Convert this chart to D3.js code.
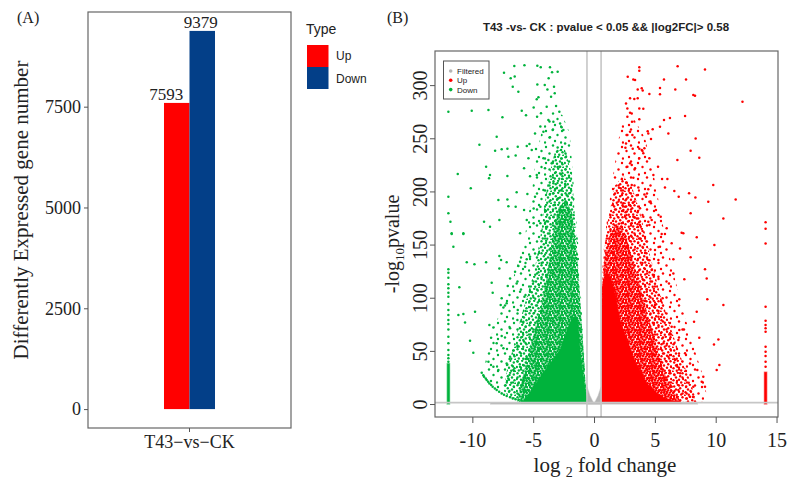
<!DOCTYPE html>
<html lang="en">
<head>
<meta charset="utf-8">
<title>DEG counts and volcano plot</title>
<style>
  body { margin: 0; background: #fff; }
  svg { display: block; }
  .serif { font-family: "Liberation Serif", "Times New Roman", serif; fill: #222; }
  .sans { font-family: "Liberation Sans", Arial, sans-serif; fill: #222; }
</style>
</head>
<body>
<script src="https://cdn.jsdelivr.net/npm/d3@7"></script>
<svg></svg>
<script>

// ---------- panel A : number of DEGs
var comparisons = ['T43\u2212vs\u2212CK'];
var types = ['Up', 'Down'];
var degCounts = [7593, 9379];
var countTicks = [0, 2500, 5000, 7500];

// ---------- panel B : volcano plot (log2FC, -log10 pvalue)
var fcTicks = [-10, -5, 0, 5, 10, 15];
var pTicks = [0, 50, 100, 150, 200, 250, 300];
var fcCut = 0.58;
var pCut = 1.3; // -log10(0.05)
var legendB = ['Filtered', 'Up', 'Down'];

// scattered down-regulated genes
var downPoints = [
  [-11.97,275],[-10.05,276],[-8.68,276.6],[-7.53,269.7],[-5.94,276],[-5.59,271.6],[-7.4,311.7],[-6.85,306.4],
  [-6.55,318],[-5.72,318.6],[-6.52,308.2],[-6.22,293.8],[-6.68,298.5],[-4.66,318.3],[-4.38,316.7],[-3.62,316.7],
  [-3.45,312],[-2.99,312.6],[-4.66,300.7],[-4.05,300],[-3.73,306.4],[-3.83,296],[-3.29,298.5],[-3.23,292.3],
  [-4.71,286.6],[-4.57,288.5],[-3.53,289],[-3.12,280.3],[-2.85,275],[-3.89,279.7],[-4.96,279],[-4.68,270.3],
  [-4.36,273.5],[-3.75,267.2],[-3.34,265.6],[-2.79,264],[-2.52,257.8],[-2.66,260.3],[-4.41,261],[-4.85,254.6],
  [-4.16,256.2],[-3.62,250.9],[-3.4,257.8],[-8,251.5],[-9.42,244],[-8.13,238.3],[-7.59,239.6],[-7.12,240.2],
  [-6.27,242],[-5.53,242.7],[-5.31,244.6],[-5.12,238.9],[-4.77,239.9],[-7.04,232.7],[-6.44,233.9],[-5.39,231.1],
  [-4.16,231.1],[-3.75,229.5],[-2.99,241.4],[-2.71,238.9],[-2.38,245.2],[-2.3,232.7],[-8.87,223.3],[-8.55,215.4],
  [-8.63,212.3],[-7.12,214.6],[-11.2,216.5],[-10.13,202.9],[-11.97,195],[-5.75,221.7],[-5.26,214.3],[-4.71,215.4],
  [-4.03,221.7],[-3.48,226.4],[-2.79,223.3],[-2.6,217.2],[-3.34,207.6],[-3.07,202.9],[-2.66,201.3],[-2.38,207],
  [-2.25,196.6],[-3.62,197.6],[-2.93,193.5],[-7.86,191.9],[-7.12,192.5],[-6.36,199.2],[-5.48,197.6],[-4.85,195],
  [-4.16,201.3],[-6.44,185.6],[-7.04,186],[-5.75,182.5],[-4.96,184],[-4.41,185.6],[-4.03,182.5],[-11.97,179.4],
  [-11.8,171.5],[-9.04,171.5],[-8.55,166.8],[-7.78,173.1],[-5.53,173.1],[-4.96,170],[-4.41,170],[-3.89,172],
  [-3.34,176.2],[-2.79,182.5],[-2.52,185.6],[-2.25,188.6],[-2.11,179.4],[-2.38,173.1],[-2.66,166.8],[-3.07,170],
  [-11.7,160.6],[-10.74,160.6],[-6.08,160.6],
  [-11.7,159.9],[-10.74,159.9],[-11.56,148],[-10.46,133.3],[-9.83,131.4],[-8.87,133.3],[-7.78,139.2],[-7.64,135.5],
  [-7.18,133.3],[-7.78,127.6],[-11.07,109.8],[-8.41,114.1],[-8.33,104.7],[-7.09,111],[-6.9,118.2],[-6.49,124.5],
  [-6.22,129.8],[-6.08,133.9],[-5.53,136.1],[-5.67,129.2],[-5.26,138.6],[-4.85,141.7],[-6.36,113.5],[-6.08,105.7],
  [-5.72,101],[-5.26,105.7],[-7.59,99.4],[-7.67,93.1],[-7.45,90.9],[-7.18,94.7],[-6.27,88.4],[-11.15,83.7],
  [-10.74,84.7],[-9.78,86.9],[-10.6,76.8],[-8.6,74.3],[-8.27,72.1],[-10.19,59.6],[-9.92,48.3],[-8.46,62.4],
  [-8,57.1],[-7.59,64],[-6.9,71.2],[-6.3,79],[-5.81,77.5],[-7.45,52.4],[-6.9,44.5],[-6.3,53.9],[-5.81,60.2],
  [-5.26,69.6],[-8.68,39.8],[-8.27,35.1],[-7.86,32],[-7.18,38.2],[-6.63,32],[-6.08,35.1],[-5.53,43],[-5.12,49.2],
  [-4.71,57.1],[-7.04,24.1],[-6.22,19.4],[-5.67,25.7],[-5.26,32],[-4.71,38.2]
];
// arc of low-count genes at lower left
var downArc = [
  [-9.23,29.5],[-9.1,27],[-9.04,25.7],[-8.9,24],[-8.82,22.6],[-8.7,21],[-8.6,19.4],[-8.45,17.8],[-8.33,16.3],
  [-8.15,14.6],[-8,13.2],[-7.8,11.5],[-7.59,10],[-7.4,8.7],[-7.18,7.5],[-6.9,6.3],[-6.68,5.3],[-6.45,4.5],
  [-6.22,3.8],[-5.95,3],[-5.67,2.2]
];
// genes stacked at the left edge (log2FC about -12)
var downEdgeFC = -11.97;
var downEdgeP = [39.8,43,46.1,50.8,57.1,63.3,70.2,75.3,79,83.7,88.4,94.1,101,104.7,108.8,112.6,118.8,123.5,126.7];

var upPoints = [
  [3.72,316.7],[3.72,313.6],[6.87,317.7],[9.12,314.6],[2.77,307.9],[3.23,305.4],[3.37,304.8],[5.75,305.4],
  [7.56,305.4],[3.59,296],[3.92,297],[4,295],[5.42,297.3],[6.68,296],[4.55,291.6],[5.42,291.3],[8.16,290.7],
  [8.3,290],[2.96,287.6],[3.31,287],[3.59,287.6],[2.63,282.8],[12.2,284.4],[2.74,278.1],[3.72,278.1],[4.05,277.8],
  [2.96,274],[3.1,273.4],[2.74,270.3],[3.72,267.8],[3.12,265.6],[5.75,267.2],[6.24,269],[7.48,271],[5.42,260.9],
  [4.82,258.4],[4.41,256.5],[4.46,254.6],[6.11,254.6],[2.96,256.2],[3.15,253],[2.74,253],[2.63,245.2],[2.58,241.1],
  [4.68,249.3],[8.35,249.9],[3.18,240.2],[3.72,240.2],[3.92,238.9],[4.14,240.5],[4.05,235.8],[4.55,231.1],
  [3.72,231.1],[7.94,238.3],[8.65,231.7],[6.85,229.5],[2.96,226.4],[3.1,224.8],[2.74,223.3],[3.37,221.7],
  [5.26,223.3],[3.23,212.9],[4.88,215.4],[5.59,211.7],[6.03,211.7],[2.69,208.2],[3.1,206],[3.64,203.8],[4.46,202],
  [2.19,202.9],[4.14,197.2],[3.51,196.3],[4.27,195],[4.55,190.3],[5.83,203.8],[9.8,206],[6.6,200.4],[7.81,198.2],
  [6.96,195],[8.33,194.4],[9.39,190.3],[11.64,192.5],[2.41,188.8],[2.55,185.6],[3.18,189.4],[3.01,186.2],
  [3.78,184.1],[4.68,188.8],[2.41,182.5],[2.69,181],[2.55,176.2],[3.23,176.2],[3.51,174.6],[4.05,176.2],
  [4.46,171.5],[4.74,173.1],[5.48,176.2],[5.09,182.5],[7.94,179.4],[10.63,174.6],[2.27,170],[3.1,170],
  [3.78,168.4],[4.55,168.4],[5.97,165.3],[7.34,160.6],
  [5.56,159.9],[5.83,159.9],[6.38,151.2],[7.07,146.4],[7.2,161.2],[8.44,156.8],[9.89,149.6],[7.94,138],
  [5.29,135.5],[6.52,136.1],[9.12,126.7],[9.26,118.2],[7.42,117.3],[6.16,113.5],[6.52,122.9],[7.01,98.5],
  [9.31,98.5],[10.63,93.1],[8.44,86.9],[8.22,77.5],[7.39,70.2],[8.65,62.4],[10.22,60.8],[9.86,56.1],[7.48,47.7],
  [7.89,38.2],[10.3,36.7],[10.08,32],[8.49,32],[8.98,25.7],[8.85,21],[9.12,16.3],[7.89,6.9],[8.16,16.3],
  [7.61,10],[7.01,69.6],[6.93,60.2],[6.24,66.5],[6.38,72.8],[5.7,57.1],[6.11,44.5],[6.66,41.4],[6.85,35.1],
  [6.19,28.9],[5.51,39.8],[5.83,22.6],[6.38,16.3],[6.93,13.2],[7.07,28.9],[5.29,82.2],[5.01,93.1],[5.64,99.4],
  [4.33,105.7],[4.6,96.3],[4.05,88.4],[4.74,126.1],[5.29,119.8],[4.05,116.7],[4.46,135.5],[5.01,144.9],
  [5.42,148],[3.78,155.8],[3.1,157.4]
];
// genes stacked at the right edge (log2FC about 14)
var upEdgeFC = 14.1;
var upEdgeP = [35.1,39.8,45.2,49.2,53.9,68,71.2,74.3,78.4,91.5,151,165,171];

// outlines of the areas where points merge: solid core, dense, medium, thin fringe
var downCore = [[-0.6,1.3],[-0.65,10],[-0.9,26],[-1.15,51],[-1.3,76],[-1.5,84],[-2,76],[-2.8,51],[-4.4,26],[-5.5,7],[-5.9,1.3]];
var downDense = [[-0.62,1.3],[-0.8,40],[-1.1,90],[-1.4,140],[-1.8,180],[-2.3,192],[-2.9,185],[-3.4,160],[-3.8,125],
  [-4.3,95],[-5,65],[-5.6,38],[-6.1,15],[-6.3,1.3]];
var downMid = [[-0.6,1.3],[-1.3,130],[-1.8,215],[-2.4,240],[-3.2,238],[-3.8,210],[-4.3,165],[-4.9,125],[-5.8,90],
  [-6.6,55],[-7.2,30],[-7.4,12],[-7,7],[-6.22,3.8],[-5.6,1.5]];
var downOuter = [[-5.6,1.5],[-6.22,3.8],[-7.18,7.5],[-8,13.2],[-8.6,19.4],[-9,35],[-8.6,60],[-7.6,90],[-6.6,120],
  [-5.8,150],[-5.2,190],[-4.8,230],[-4.2,262],[-3.4,275],[-2.6,272],[-2,255],[-1.3,150],[-0.6,1.3]];
var downEdgeCore = [[-12.07,0],[-11.87,0],[-11.87,38],[-12.07,38]];
var upCore = [[0.63,1.3],[0.63,60],[0.68,110],[1,125],[1.4,118],[1.8,100],[2.1,80],[2.7,60],[3.3,42],[4.3,20],[5.2,10],[5.9,5],[7.2,1.3]];
var upDense = [[0.63,1.3],[0.66,110],[0.9,140],[1.3,160],[1.9,170],[2.6,160],[3.2,135],[3.8,110],[4.4,85],[5,60],
  [5.6,35],[6.3,15],[7,5],[7.2,1.3]];
var upMid = [[0.63,1.3],[0.7,130],[1.1,170],[1.7,205],[2.4,215],[3.1,205],[3.8,180],[4.6,140],[5.4,105],[6.2,75],
  [7,48],[7.8,25],[8.3,8],[8.2,1.3]];
var upOuter = [[0.63,1.3],[0.8,150],[1.5,210],[2.2,262],[3.2,270],[4.2,250],[5,210],[5.8,160],[6.6,120],[7.4,85],
  [8.3,50],[9,25],[9.3,6],[9,1.3]];
var upEdgeCore = [[14,0],[14.2,0],[14.2,30],[14,30]];
var filteredBand = [[-8.5,0],[8.5,0],[8.5,1.3],[-8.5,1.3]];
var filteredV = [[-0.58,0],[-0.58,16],[-0.35,8],[-0.12,2.5],[0,1],[0.12,2.5],[0.35,8],[0.58,16],[0.58,0]];

var barColor = {Up: '#ff0000', Down: '#033f88'};
var green = '#00b33c', red = '#ff0000', grey = '#b5b5b5';

var width = 788, height = 479;
var svg = d3.select('svg').attr('width', width).attr('height', height);
svg.append('rect').attr('width', width).attr('height', height).attr('fill', '#fff');

// =============== panel A
var boxA = {left: 88, right: 291, top: 12, bottom: 428};
var yA = d3.scaleLinear().domain([-469, 9848]).range([boxA.bottom, boxA.top]);
var xA = d3.scaleBand().domain(comparisons).range([boxA.left, boxA.right]).paddingInner(0).paddingOuter(1.49);
var xType = d3.scaleBand().domain(types).range([0, xA.bandwidth()]);
// labels were dodged a bit wider than the bars
var xLab = d3.scaleBand().domain(types).range([xA(comparisons[0]) - 15, xA(comparisons[0]) + 54]);

var gA = svg.append('g');
gA.selectAll('rect.bar')
  .data(types)
  .enter().append('rect')
  .attr('class', 'bar')
  .attr('x', function(d) { return xA(comparisons[0]) + xType(d); })
  .attr('y', function(d, i) { return yA(degCounts[i]); })
  .attr('width', xType.bandwidth())
  .attr('height', function(d, i) { return yA(0) - yA(degCounts[i]); })
  .attr('fill', function(d) { return barColor[d]; });

gA.selectAll('text.val')
  .data(types)
  .enter().append('text')
  .attr('class', 'val serif')
  .attr('x', function(d) { return xLab(d) + xLab.bandwidth() / 2; })
  .attr('y', function(d, i) { return yA(degCounts[i]) - 3; })
  .attr('text-anchor', 'middle')
  .attr('font-size', '17px')
  .text(function(d, i) { return degCounts[i]; });

gA.append('rect')
  .attr('x', boxA.left).attr('y', boxA.top)
  .attr('width', boxA.right - boxA.left).attr('height', boxA.bottom - boxA.top)
  .attr('fill', 'none').attr('stroke', '#666').attr('stroke-width', 1.2);

// y axis
gA.append('g')
  .attr('transform', 'translate(' + boxA.left + ',0)')
  .call(d3.axisLeft(yA).tickValues(countTicks).tickSize(4).tickPadding(3).tickFormat(d3.format('d')))
  .call(function(g) { g.select('.domain').remove(); })
  .call(function(g) {
    g.selectAll('line').attr('stroke', '#555');
    g.selectAll('text').attr('class', 'serif').attr('font-size', '18px').attr('fill', '#222');
  })
  .attr('font-family', null).attr('font-size', null);

// x axis
gA.append('g')
  .attr('transform', 'translate(0,' + boxA.bottom + ')')
  .call(d3.axisBottom(xA).tickSize(4).tickPadding(16))
  .call(function(g) { g.select('.domain').remove(); })
  .call(function(g) {
    g.selectAll('line').attr('stroke', '#555');
    g.selectAll('text').attr('class', 'serif').attr('font-size', '18px').attr('fill', '#222').attr('dy', 0);
  })
  .attr('font-family', null).attr('font-size', null);

gA.append('text').attr('class', 'serif')
  .attr('transform', 'translate(28,210) rotate(-90)')
  .attr('text-anchor', 'middle').attr('font-size', '21px')
  .text('Differently Expressed gene number');

gA.append('text').attr('class', 'serif').attr('x', 17).attr('y', 23).attr('font-size', '16px').text('(A)');

// legend A
var legA = gA.append('g').attr('transform', 'translate(306,0)');
legA.append('text').attr('class', 'sans').attr('x', 0).attr('y', 34).attr('font-size', '14px').text('Type');
legA.selectAll('rect')
  .data(types).enter().append('rect')
  .attr('x', 1).attr('y', function(d, i) { return 45 + i * 22; })
  .attr('width', 21.5).attr('height', 22)
  .attr('fill', function(d) { return barColor[d]; });
legA.selectAll('text.lab')
  .data(types).enter().append('text')
  .attr('class', 'lab sans')
  .attr('x', 30).attr('y', function(d, i) { return 60 + i * 23; })
  .attr('font-size', '12px')
  .text(function(d) { return d; });

// =============== panel B
var boxB = {left: 435, right: 778, top: 51, bottom: 417};
var xB = d3.scaleLinear().domain([-13.07, 15.12]).range([boxB.left, boxB.right]);
var yB = d3.scaleLinear().domain([-12.2, 332.1]).range([boxB.bottom, boxB.top]);
var area = d3.line().x(function(d) { return xB(d[0]); }).y(function(d) { return yB(d[1]); });

var defs = svg.append('defs');
defs.append('clipPath').attr('id', 'clipB').append('rect')
  .attr('x', boxB.left).attr('y', boxB.top)
  .attr('width', boxB.right - boxB.left).attr('height', boxB.bottom - boxB.top);

// dot textures that stand in for crowded points
var denseDots = [[1,1],[4,0.5],[7,1.5],[10,0.8],[2.5,3.5],[5.5,3],[8.5,3.8],[11.2,3.2],[0.8,6],[3.8,6.2],[6.5,5.5],
  [9.6,6.3],[2,8.6],[5,8.2],[8,8.8],[10.8,9],[0.5,11],[3.5,11.2],[6.5,11],[9.5,11.5],[7.5,7.2],[11.5,6]];
var midDots = [[1.5,1.2],[6.2,0.8],[9.8,2.5],[3.8,4.2],[8,5.5],[0.8,7],[5,7.8],[10.5,8.2],[2.8,10.5],[7.2,10.8],[11.3,11.6]];
var outerDots = [[2,3],[9,1.5],[13.5,7],[5.5,9.5],[11,13],[1,14.5]];
function dotPattern(id, color, dots, size, flip) {
  var p = defs.append('pattern').attr('id', id)
    .attr('patternUnits', 'userSpaceOnUse').attr('width', size).attr('height', size);
  dots.forEach(function(d) {
    p.append('circle')
      .attr('cx', flip ? size - d[0] : d[0]).attr('cy', d[1])
      .attr('r', 1.2).attr('fill', color);
  });
}
dotPattern('outerG', green, outerDots, 16, false);
dotPattern('midG', green, midDots, 12, false);
dotPattern('denseG', green, denseDots, 12, false);
dotPattern('outerR', red, outerDots, 16, true);
dotPattern('midR', red, midDots, 12, true);
dotPattern('denseR', red, denseDots, 12, true);

var gB = svg.append('g').attr('clip-path', 'url(#clipB)');

function drawArea(shape, fill, color) {
  gB.append('path')
    .attr('d', area(shape) + 'Z')
    .attr('fill', fill)
    .attr('stroke', color).attr('stroke-width', 1.2).attr('stroke-opacity', 0.5);
}
drawArea(filteredBand, grey, grey);
drawArea(filteredV, grey, grey);
drawArea(downOuter, 'url(#outerG)', 'none');
drawArea(upOuter, 'url(#outerR)', 'none');
drawArea(downMid, 'url(#midG)', 'none');
drawArea(upMid, 'url(#midR)', 'none');
drawArea(downDense, 'url(#denseG)', 'none');
drawArea(upDense, 'url(#denseR)', 'none');
drawArea(downCore, green, green);
drawArea(upCore, red, red);
drawArea(downEdgeCore, green, green);
drawArea(upEdgeCore, red, red);

function drawPoints(pts, color) {
  gB.append('g').selectAll('circle')
    .data(pts).enter().append('circle')
    .attr('cx', function(d) { return xB(d[0]); })
    .attr('cy', function(d) { return yB(d[1]); })
    .attr('r', 1.25)
    .attr('fill', color);
}
drawPoints(downPoints, green);
drawPoints(downArc, green);
drawPoints(downEdgeP.map(function(p) { return [downEdgeFC, p]; }), green);
drawPoints(upPoints, red);
drawPoints(upEdgeP.map(function(p) { return [upEdgeFC, p]; }), red);

// cut-off lines
gB.append('line')
  .attr('x1', boxB.left).attr('x2', boxB.right)
  .attr('y1', yB(pCut)).attr('y2', yB(pCut))
  .attr('stroke', '#c6c6c6').attr('stroke-width', 1.6);
gB.selectAll('line.fc')
  .data([-fcCut, fcCut]).enter().append('line')
  .attr('class', 'fc')
  .attr('x1', function(d) { return xB(d); }).attr('x2', function(d) { return xB(d); })
  .attr('y1', boxB.top).attr('y2', boxB.bottom)
  .attr('stroke', '#c6c6c6').attr('stroke-width', 1.6);

svg.append('rect')
  .attr('x', boxB.left).attr('y', boxB.top)
  .attr('width', boxB.right - boxB.left).attr('height', boxB.bottom - boxB.top)
  .attr('fill', 'none').attr('stroke', '#666').attr('stroke-width', 1.2);

// x axis
svg.append('g')
  .attr('transform', 'translate(0,' + boxB.bottom + ')')
  .call(d3.axisBottom(xB).tickValues(fcTicks).tickSize(6).tickPadding(10).tickFormat(function(d) { return String(d); }))
  .call(function(g) { g.select('.domain').remove(); })
  .call(function(g) {
    g.selectAll('line').attr('stroke', '#555');
    g.selectAll('text').attr('class', 'serif').attr('font-size', '20px').attr('fill', '#222');
  })
  .attr('font-family', null).attr('font-size', null);

// y axis, labels turned like in base R
svg.append('g')
  .attr('transform', 'translate(' + boxB.left + ',0)')
  .call(d3.axisLeft(yB).tickValues(pTicks).tickSize(5))
  .call(function(g) { g.select('.domain').remove(); })
  .call(function(g) {
    g.selectAll('line').attr('stroke', '#555');
    g.selectAll('text')
      .attr('class', 'serif').attr('font-size', '20px').attr('fill', '#222')
      .attr('transform', 'rotate(-90)')
      .attr('x', 0).attr('y', -8).attr('dy', 0)
      .attr('text-anchor', 'middle');
  })
  .attr('font-family', null).attr('font-size', null);

var xt = svg.append('text').attr('class', 'serif')
  .attr('x', 605).attr('y', 472).attr('text-anchor', 'middle').attr('font-size', '21px');
xt.append('tspan').text('log ');
xt.append('tspan').attr('font-size', '14px').attr('dy', 5).text('2');
xt.append('tspan').attr('dy', -5).text(' fold change');

var yt = svg.append('text').attr('class', 'serif')
  .attr('transform', 'translate(399,244) rotate(-90)')
  .attr('text-anchor', 'middle').attr('font-size', '20px');
yt.append('tspan').text('-log');
yt.append('tspan').attr('font-size', '13px').attr('dy', 5).text('10');
yt.append('tspan').attr('dy', -5).text('pvalue');

svg.append('text').attr('class', 'serif').attr('x', 387).attr('y', 23).attr('font-size', '16px').text('(B)');

svg.append('text').attr('class', 'sans')
  .attr('x', 606).attr('y', 31).attr('text-anchor', 'middle')
  .attr('font-size', '11.5px').attr('font-weight', 'bold')
  .text('T43 -vs- CK : pvalue < 0.05 && |log2FC|> 0.58');

// legend B
var legB = svg.append('g');
legB.append('rect').attr('x', 443.5).attr('y', 61).attr('width', 45.5).attr('height', 38)
  .attr('fill', '#fff').attr('stroke', '#555').attr('stroke-width', 1);
var legColor = {Filtered: grey, Up: red, Down: green};
legB.selectAll('circle')
  .data(legendB).enter().append('circle')
  .attr('cx', 450.7).attr('cy', function(d, i) { return 71 + i * 9.3; })
  .attr('r', 1.8).attr('fill', function(d) { return legColor[d]; });
legB.selectAll('text')
  .data(legendB).enter().append('text')
  .attr('class', 'sans')
  .attr('x', 457).attr('y', function(d, i) { return 74 + i * 9.3; })
  .attr('font-size', '8px').attr('fill', '#333')
  .text(function(d) { return d; });

</script>
</body>
</html>
